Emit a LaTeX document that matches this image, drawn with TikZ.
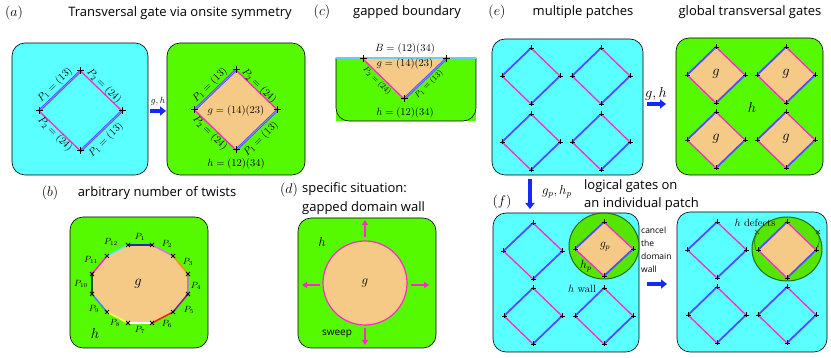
\RequirePackage{fix-cm}
\documentclass[tikz,border=0pt]{standalone}
\usepackage{fontspec}
\newfontfamily\tf{Open Sans}
\usetikzlibrary{arrows.meta}
\definecolor{cyanc}{RGB}{90,255,255}
\definecolor{greenc}{RGB}{85,250,0}
\definecolor{orangec}{RGB}{245,202,135}
\definecolor{magc}{RGB}{255,40,200}
\definecolor{bluec}{RGB}{85,75,255}
\definecolor{lbluec}{RGB}{150,150,255}
\definecolor{arrowc}{RGB}{20,40,255}
\definecolor{dgreenc}{RGB}{30,110,20}
\definecolor{egreenc}{RGB}{85,230,0}
\definecolor{navyc}{RGB}{40,40,170}
\definecolor{violc}{RGB}{225,110,235}
\definecolor{oranc}{RGB}{255,140,30}
\definecolor{grayc}{RGB}{150,150,150}
\definecolor{purpc}{RGB}{130,30,150}
\definecolor{redc}{RGB}{240,30,30}
\definecolor{yelc}{RGB}{255,255,90}
\definecolor{dodgc}{RGB}{50,140,230}
\definecolor{dkgc}{RGB}{20,90,20}
\definecolor{ltcyc}{RGB}{90,230,255}
\newcommand\mypatch[7]{%
  \coordinate (#1t) at (#2,#3-#5);
  \coordinate (#1l) at (#2-#4,#3);
  \coordinate (#1r) at (#2+#4,#3);
  \coordinate (#1b) at (#2,#3+#5);
  \path[fill=#6] (#1t)--(#1r)--(#1b)--(#1l)--cycle;
  \draw[bedge] (#1l)--(#1t);
  \draw[medge] (#1t)--(#1r);
  \draw[bedge] (#1r)--(#1b);
  \draw[medge] (#1b)--(#1l);
  \foreach \v in {t,l,r,b} \pic at (#1\v) {#7};
}
\begin{document}
\begin{tikzpicture}[x=1pt,y=-1pt,
  title/.style={font=\tf\fontsize{13}{15}\selectfont, inner sep=0pt},
  small/.style={font=\tf\fontsize{8.5}{10}\selectfont, inner sep=0pt},
  plab/.style={font=\fontsize{14}{16}\selectfont, inner sep=0pt},
  lab/.style={font=\fontsize{10.5}{12}\selectfont, inner sep=0pt},
  slab/.style={font=\fontsize{9}{10}\selectfont, inner sep=0pt},
  tlab/.style={font=\fontsize{8}{9}\selectfont, inner sep=0pt},
  big/.style={font=\fontsize{14.5}{16}\selectfont, inner sep=0pt},
  box/.style={draw=black, line width=0.6pt, rounded corners=13pt},
  medge/.style={draw=magc, line width=1.3pt},
  bedge/.style={draw=bluec, line width=1.8pt},
  bedged/.style={draw=bluec, line width=0.9pt, double=lbluec, double distance=0.6pt},
  barrow/.style={draw=arrowc, line width=3.5pt, -{Triangle[length=6pt,width=9pt]}},
  marrow/.style={draw=magc, line width=2pt, -{Triangle[length=5pt,width=6pt]}},
  pics/bigplus/.style={code={\draw[line width=1pt] (-3.5,0)--(3.5,0) (0,-3.5)--(0,3.5);}},
  pics/smallplus/.style={code={\draw[line width=0.8pt] (-2.5,0)--(2.5,0) (0,-2.5)--(0,2.5);}},
  pics/xmark/.style={code={\draw[line width=1pt] (-2,-2)--(2,2) (-2,2)--(2,-2);}}
]
\useasboundingbox (0,0) rectangle (831,358);

% ---------------- (a)
\node[plab] (ta) at (14,13) {$(a)$};
\node[title] (tta) at (180,13) {Transversal gate via onsite symmetry};
\draw[box, fill=cyanc] (12,43) rectangle (148,175);
\draw[box, fill=greenc] (167,43) rectangle (305,175);
\begin{scope}[bedge/.style={bedged}]
\mypatch{A}{80.5}{111}{41.5}{40}{none}{bigplus}
\mypatch{B}{236}{110}{41.5}{40}{orangec}{bigplus}
\end{scope}
\node[lab, rotate=45] (la1) at (55,85) {$P_1=(13)$};
\node[lab, rotate=-45] (la2) at (104,86) {$P_2=(24)$};
\node[lab, rotate=-45] (la3) at (55,134) {$P_2=(24)$};
\node[lab, rotate=45] (la4) at (106,140) {$P_1=(13)$};
\node[lab, rotate=45] (lb1) at (210,85) {$P_1=(13)$};
\node[lab, rotate=-45] (lb2) at (259,86) {$P_2=(24)$};
\node[lab, rotate=-45] (lb3) at (210,133) {$P_2=(24)$};
\node[lab, rotate=45] (lb4) at (261,139) {$P_1=(13)$};
\node[lab] (gb) at (236,111) {$g=(14)(23)$};
\node[lab] (hb) at (236,164) {$h=(12)(34)$};
\coordinate (aa1) at (150,111);
\coordinate (aa2) at (166,111);
\draw[barrow] (aa1) -- (aa2);
\node[slab] (gha) at (158,101) {$g,h$};

% ---------------- (c)
\node[plab] (tc) at (322,12) {$(c)$};
\node[title] (ttc) at (407,12) {gapped boundary};
\path[fill=greenc] (336,58) -- (336,121) -- (476,121) -- (476,58) -- cycle;
\draw[box] (336,58) -- (336,121) -- (476,121) -- (476,58);
\draw[cyan!60!white, line width=1.6pt] (336,58) -- (476,58);
\coordinate (Cl) at (363,59);
\coordinate (Cr) at (446,59);
\coordinate (Cb) at (404,99);
\fill[orangec] (Cl) -- (Cr) -- (Cb) -- cycle;
\draw[medge] (Cl) -- (Cb);
\draw[bedged] (Cr) -- (Cb);
\foreach \v in {Cl,Cr,Cb} \pic at (\v) {bigplus};
\node[lab] (cB) at (405,49) {$B=(12)(34)$};
\node[lab] (cg) at (405,64) {$g=(14)(23)$};
\node[tlab, rotate=-45] (cp2) at (377,81) {$P_2=(24)$};
\node[tlab, rotate=45] (cp1) at (429,84) {$P_1=(13)$};
\node[lab] (ch) at (405,113) {$h=(12)(34)$};

% ---------------- (e)
\node[plab] (te) at (497,12) {$(e)$};
\node[title] (tte) at (583,12) {multiple patches};
\node[title] (tte2) at (750,12) {global transversal gates};
\draw[box, fill=cyanc] (492,39) rectangle (643,175);
\draw[box, fill=greenc] (676,38) rectangle (823,175);
\mypatch{E1}{531}{76}{29}{28}{none}{smallplus}
\mypatch{E2}{601}{76}{29}{28}{none}{smallplus}
\mypatch{E3}{531}{142}{29}{28}{none}{smallplus}
\mypatch{E4}{601}{142}{29}{28}{none}{smallplus}
\mypatch{F1}{716}{75}{29}{28}{orangec}{smallplus}
\mypatch{F2}{786}{75}{29}{28}{orangec}{smallplus}
\mypatch{F3}{716}{140}{29}{28}{orangec}{smallplus}
\mypatch{F4}{786}{140}{29}{28}{orangec}{smallplus}
\node[big] (g1) at (716,74) {$g$};
\node[big] (g2) at (786,74) {$g$};
\node[big] (g3) at (716,139) {$g$};
\node[big] (g4) at (786,139) {$g$};
\node[big] (he) at (752,107) {$h$};
\coordinate (ea1) at (647,104);
\coordinate (ea2) at (666,104);
\draw[barrow] (ea1) -- (ea2);
\node[big] (ghe) at (656,94) {$g,h$};

% ---------------- (b)
\node[plab] (tb) at (50,193) {$(b)$};
\node[title] (ttb) at (157,193) {arbitrary number of twists};
\draw[box, fill=greenc] (70,217) rectangle (208,348);
\coordinate (v1) at (128,245);
\coordinate (v2) at (152,245);
\coordinate (v3) at (173,256);
\coordinate (v4) at (188,274);
\coordinate (v5) at (188,294);
\coordinate (v6) at (173,312);
\coordinate (v7) at (152,323);
\coordinate (v8) at (128,323);
\coordinate (v9) at (107,312);
\coordinate (v10) at (92,294);
\coordinate (v11) at (92,274);
\coordinate (v12) at (107,256);
\fill[orangec] (v1)--(v2)--(v3)--(v4)--(v5)--(v6)--(v7)--(v8)--(v9)--(v10)--(v11)--(v12)--cycle;
\foreach \a/\b/\c in {1/2/navyc,2/3/violc,3/4/oranc,4/5/grayc,5/6/purpc,6/7/redc,7/8/white,8/9/yelc,9/10/dodgc,10/11/dkgc,11/12/magc,12/1/ltcyc}
  \draw[line width=1.5pt, \c] (v\a) -- (v\b);
\foreach \k in {1,...,12} \pic at (v\k) {xmark};
\node[slab] (p1) at (140,237) {$P_1$};
\node[slab] (p2) at (167,244) {$P_2$};
\node[slab] (p3) at (188,262) {$P_3$};
\node[slab] (p4) at (196,286) {$P_4$};
\node[slab] (p5) at (189,310) {$P_5$};
\node[slab] (p6) at (167,324) {$P_6$};
\node[slab] (p7) at (140,330) {$P_7$};
\node[slab] (p8) at (115,323) {$P_8$};
\node[slab] (p9) at (94,309) {$P_9$};
\node[slab] (p10) at (81,284) {$P_{10}$};
\node[slab] (p11) at (91,260) {$P_{11}$};
\node[slab] (p12) at (111,242) {$P_{12}$};
\node[big] (gbb) at (138,284) {$g$};
\node[big] (hbb) at (95,333) {$h$};

% ---------------- (d)
\node[plab] (td) at (289,190) {$(d)$};
\node[title, anchor=west] (ttd) at (302,189) {specific situation:};
\node[title, anchor=west] (ttd2) at (302,208) {gapped domain wall};
\draw[box, fill=greenc] (298,218) rectangle (436,348);
\draw[magc, line width=1.2pt, fill=orangec] (365,283) circle[radius=42pt];
\coordinate (du1) at (365,237); \coordinate (du2) at (365,220);
\coordinate (dl1) at (320,285); \coordinate (dl2) at (302,285);
\coordinate (dr1) at (411,285); \coordinate (dr2) at (429,285);
\coordinate (dd1) at (365,328); \coordinate (dd2) at (365,345);
\draw[marrow] (du1) -- (du2);
\draw[marrow] (dl1) -- (dl2);
\draw[marrow] (dr1) -- (dr2);
\draw[marrow] (dd1) -- (dd2);
\node[font=\fontsize{13}{15}\selectfont, inner sep=0pt] (hd) at (322,242) {$h$};
\node[font=\fontsize{13}{15}\selectfont, inner sep=0pt] (gd) at (365,283) {$g$};
\node[font=\tf\fontsize{10}{12}\selectfont, inner sep=0pt] (sw) at (337,334) {sweep};

% ---------------- (f)
\coordinate (fa1) at (530,179);
\coordinate (fa2) at (530,209);
\draw[barrow] (fa1) -- (fa2);
\node[font=\fontsize{13}{15}\selectfont, inner sep=0pt] (ghf) at (557,192) {$g_p,h_p$};
\node[plab] (tf) at (502,202) {$(f)$};
\node[title, anchor=west] (ttf) at (584,186) {logical gates on};
\node[title, anchor=west] (ttf2) at (584,204) {an individual patch};
\draw[box, fill=cyanc] (493,213) rectangle (639,352);
\draw[box, fill=cyanc] (677,212) rectangle (827,352);
\draw[dgreenc, line width=1pt, fill=egreenc] (604,246) ellipse[x radius=35pt, y radius=33pt];
\draw[dgreenc, line width=1pt, fill=egreenc] (787,249) ellipse[x radius=35pt, y radius=32pt];
\mypatch{G1}{533}{251}{29.5}{28}{none}{smallplus}
\mypatch{G2}{604}{249}{29}{27}{orangec}{smallplus}
\mypatch{G3}{533}{316}{29}{28}{none}{smallplus}
\mypatch{G4}{604}{316}{29}{28}{none}{smallplus}
\mypatch{H1}{717}{250}{29.5}{28}{none}{smallplus}
\mypatch{H2}{787}{250}{29}{28}{orangec}{smallplus}
\mypatch{H3}{717}{315}{29}{28}{none}{smallplus}
\mypatch{H4}{787}{315}{29}{28}{none}{smallplus}
\node[font=\fontsize{12}{14}\selectfont, inner sep=0pt] (gpf) at (605,247) {$g_p$};
\node[font=\fontsize{12}{14}\selectfont, inner sep=0pt] (hpf) at (586,266) {$h_p$};
\node[lab] (hwall) at (582,289) {$h$ \textrm{wall}};
\node[lab] (hdef) at (755,223) {$h$ \textrm{defects}};
\node[small, anchor=west] (c1) at (641,230) {cancel};
\node[small, anchor=west] (c2) at (641,243) {the};
\node[small, anchor=west] (c3) at (641,256) {domain};
\node[small, anchor=west] (c4) at (641,269) {wall};
\coordinate (fb1) at (647,284);
\coordinate (fb2) at (667,284);
\draw[barrow] (fb1) -- (fb2);
% small defect arrows
\coordinate (dl0) at (756,250);
\coordinate (dlt) at (757,232);
\coordinate (dr0) at (818,232);
\coordinate (drt) at (817,248);
\draw[dgreenc, line width=0.6pt, -{Stealth[length=3pt]}] (dl0) to[bend left=20] (dlt);
\draw[dgreenc, line width=0.6pt, -{Stealth[length=3pt]}] (dr0) to[bend left=20] (drt);
\pic[dgreenc] at (dlt) {xmark};
\pic[dgreenc] at (dr0) {xmark};
\end{tikzpicture}
\end{document}
